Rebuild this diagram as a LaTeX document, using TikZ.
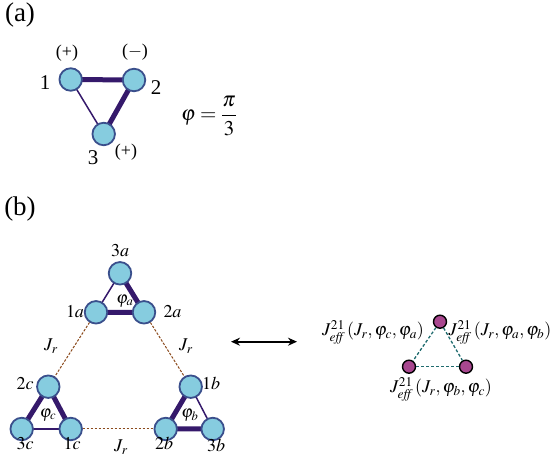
\documentclass[tikz,border=0pt]{standalone}
\usepackage{amsmath}
\usepackage{mathptmx}
\usepackage{fontspec}
\setmainfont{Liberation Serif}
\usepackage{xcolor}
\usetikzlibrary{calc, arrows.meta, positioning}

\definecolor{sitefill}{HTML}{86CCDF}
\definecolor{siteline}{HTML}{3A4F8C}
\definecolor{bondcol}{HTML}{35196B}
\definecolor{rbond}{HTML}{8B4A1C}
\definecolor{effill}{HTML}{A8478F}
\definecolor{efbond}{HTML}{1F6B6E}

\begin{document}
\begin{tikzpicture}[x=1pt, y=-1pt, >={Stealth[length=9pt, width=8pt]},
    site/.style={circle, fill=sitefill, draw=siteline, line width=1.8pt, minimum size=22.5pt, inner sep=0pt},
    effsite/.style={circle, fill=effill, draw=black, line width=1.4pt, minimum size=13pt, inner sep=0pt},
    strong/.style={bondcol, line width=5pt},
    weak/.style={bondcol, line width=1.5pt},
    rlink/.style={rbond, line width=1pt, dash pattern=on 2.5pt off 1.5pt},
    efflink/.style={efbond, line width=1.3pt, dash pattern=on 3pt off 2pt},
    panel/.style={font=\fontsize{27}{30}\selectfont, inner sep=0pt},
    lab/.style={font=\fontsize{21}{24}\selectfont, inner sep=0pt},
    idx/.style={font=\fontsize{18}{20}\selectfont, inner sep=0pt},
    sgn/.style={font=\fontsize{18}{20}\selectfont, inner sep=0pt},
    phase/.style={font=\fontsize{17}{19}\selectfont, inner sep=0pt},
    jlab/.style={font=\fontsize{18}{20}\selectfont, inner sep=0pt},
    efflab/.style={font=\fontsize{18}{20}\selectfont, inner sep=0pt}]
    \useasboundingbox (0,0) rectangle (550,465);

    % 1. Phan (a): tam giac ba nut
    \node[panel] (ta) at (20,15) {(a)};
    \coordinate (c1) at (70.7,79.5);
    \coordinate (c2) at (134,80);
    \coordinate (c3) at (103.7,134);
    \draw[strong] (c1) -- (c2) -- (c3);
    \draw[weak] (c1) -- (c3);
    \foreach \s in {1,2,3}
        \node[site] (n\s) at (c\s) {};
    \node[lab] (l1) at (45,83) {1};
    \node[lab] (l2) at (156,88) {2};
    \node[lab] (l3) at (93,158) {3};
    \node[sgn] (s1) at (67,53) {(+)};
    \node[sgn] (s2) at (135,52) {($-$)};
    \node[sgn] (s3) at (126,152) {(+)};
    \node[lab] (phi) at (209,116) {$\varphi=\dfrac{\pi}{3}$};

    % 2. Phan (b): ba tam giac noi voi nhau
    \node[panel] (tb) at (20,209) {(b)};
    \coordinate (c3a) at (120,273.3);
    \coordinate (c1a) at (96,312.3);
    \coordinate (c2a) at (144,312.3);
    \coordinate (c2c) at (48.3,386.7);
    \coordinate (c3c) at (21.7,429);
    \coordinate (c1c) at (70.7,429);
    \coordinate (c1b) at (190.7,386.7);
    \coordinate (c2b) at (165.7,429);
    \coordinate (c3b) at (212.7,429);

    % lien ket J_r (net dut)
    \draw[rlink] (c1a) -- (c2c);
    \draw[rlink] (c2a) -- (c1b);
    \draw[rlink] (c1c) -- (c2b);

    % lien ket trong tam giac
    \draw[strong] (c3a) -- (c2a) -- (c1a);
    \draw[weak] (c3a) -- (c1a);
    \draw[strong] (c3c) -- (c2c) -- (c1c);
    \draw[weak] (c3c) -- (c1c);
    \draw[strong] (c1b) -- (c2b) -- (c3b);
    \draw[weak] (c1b) -- (c3b);

    \foreach \s in {3a,1a,2a,2c,3c,1c,1b,2b,3b}
        \node[site] (n\s) at (c\s) {};

    \node[idx] (l3a) at (120,251) {$3a$};
    \node[idx] (l1a) at (75,312) {$1a$};
    \node[idx] (l2a) at (172.5,312) {$2a$};
    \node[idx] (l2c) at (25,384) {$2c$};
    \node[idx] (l1b) at (211,383) {$1b$};
    \node[idx] (l3c) at (25,443.5) {$3c$};
    \node[idx] (l1c) at (72,443.5) {$1c$};
    \node[idx] (l2b) at (164,443.5) {$2b$};
    \node[idx] (l3b) at (216,445) {$3b$};
    \node[phase] (pa) at (125,301) {$\varphi_a$};
    \node[phase] (pc) at (48,415) {$\varphi_c$};
    \node[phase] (pb) at (190,415) {$\varphi_b$};
    \node[jlab] (jl) at (51,346) {$J_r$};
    \node[jlab] (jr) at (186,346) {$J_r$};
    \node[jlab] (jb) at (121,447) {$J_r$};

    % 3. Mui ten hai chieu
    \coordinate (al) at (231,341.7);
    \coordinate (ar) at (297,341.7);
    \draw[<->, line width=2pt] (al) -- (ar);

    % 4. Tam giac hieu dung
    \node[effsite] (ea) at (440,321.7) {};
    \node[effsite] (eb) at (409,366.7) {};
    \node[effsite] (ec) at (466,366.7) {};
    \draw[efflink] (ea) -- (eb);
    \draw[efflink] (ea) -- (ec);
    \draw[efflink] (eb) -- (ec);
    \node[efflab] (jca) at (373,332) {$J^{21}_{\mathit{eff}}\left(J_r,\varphi_c,\varphi_a\right)$};
    \node[efflab] (jab) at (500,332) {$J^{21}_{\mathit{eff}}\left(J_r,\varphi_a,\varphi_b\right)$};
    \node[efflab] (jbc) at (441,389) {$J^{21}_{\mathit{eff}}\left(J_r,\varphi_b,\varphi_c\right)$};
\end{tikzpicture}
\end{document}
